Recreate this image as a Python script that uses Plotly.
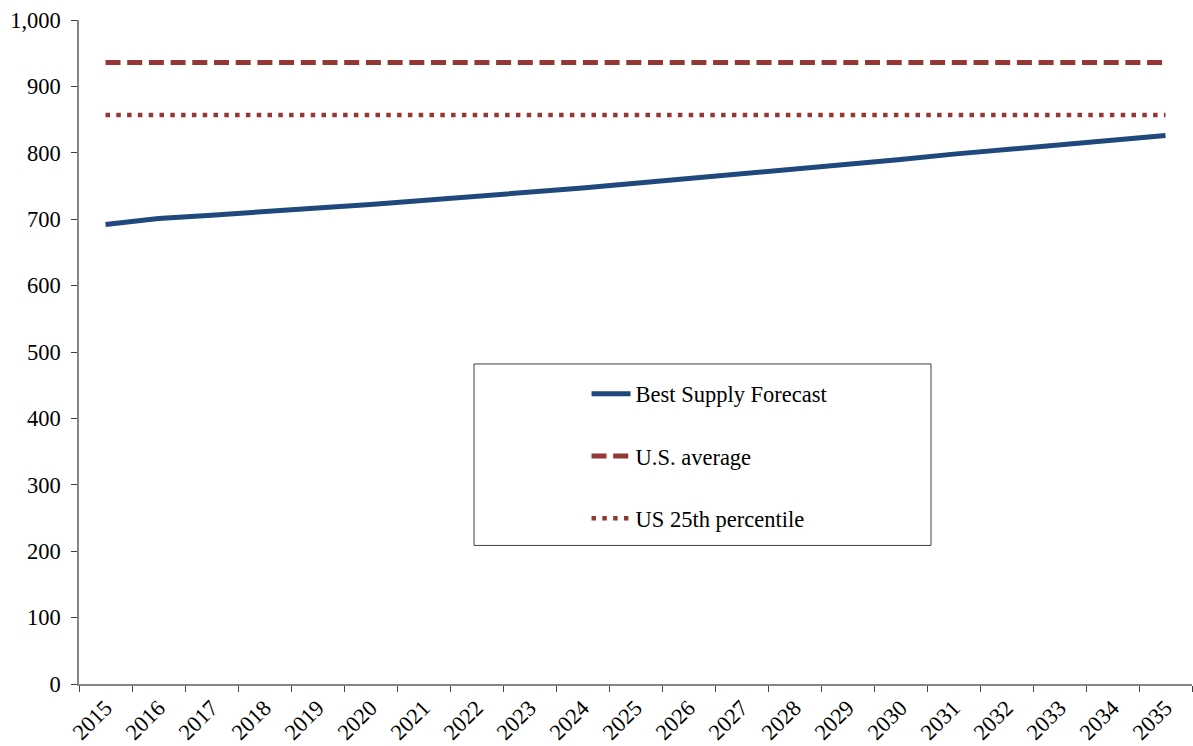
import plotly.graph_objects as go

years = [str(y) for y in range(2015, 2036)]
best_supply = [692, 701, 706, 712, 717, 722, 728, 734, 740, 747, 754,
               761, 768, 776, 783, 790, 798, 805, 813, 820, 826]
us_average = [936] * len(years)
us_25th = [857] * len(years)

FONT = "Liberation Serif, Times New Roman, serif"
BLUE = "#1F497D"
RED = "#953735"
FS = 22.5

fig = go.Figure()
fig.add_trace(go.Scatter(x=years, y=best_supply, mode="lines", name="Best Supply Forecast",
                         legendgroup="a", line=dict(color=BLUE, width=5)))
fig.add_trace(go.Scatter(x=years, y=us_average, mode="lines", name="U.S. average",
                         legendgroup="b", line=dict(color=RED, width=5, dash="15px,6.7px")))
fig.add_trace(go.Scatter(x=years, y=us_25th, mode="lines", name="US 25th percentile",
                         legendgroup="c", line=dict(color=RED, width=4.5, dash="4.5px,6.3px")))

fig.add_shape(type="rect", xref="paper", yref="paper",
              x0=0.3549, x1=0.7655, y0=0.2087, y1=0.482,
              line=dict(color="#404040", width=1), fillcolor="rgba(0,0,0,0)", layer="below")

fig.update_layout(
    width=1193, height=746,
    margin=dict(l=79, r=1, t=20, b=60),
    paper_bgcolor="white", plot_bgcolor="white",
    font=dict(family=FONT, size=FS, color="black"),
    showlegend=True,
    legend=dict(x=0.456, y=0.469, xanchor="left", yanchor="top",
                bgcolor="rgba(0,0,0,0)", borderwidth=0,
                traceorder="grouped", tracegroupgap=30, itemwidth=39,
                font=dict(family=FONT, size=FS, color="black")),
)
fig.update_xaxes(type="category", range=[-0.5, 20.5], tickangle=-45,
                 tickson="boundaries", ticks="outside", ticklen=6,
                 tickcolor="#404040", showline=True, linecolor="#868686", linewidth=1.5,
                 showgrid=False, zeroline=False,
                 tickfont=dict(family=FONT, size=FS, color="black"))
fig.update_yaxes(range=[0, 1000], dtick=100, tickformat=",d", ticks="outside", ticklen=6,
                 ticklabelstandoff=6,
                 tickcolor="#404040", showline=True, linecolor="#868686", linewidth=1.5,
                 showgrid=False, zeroline=False,
                 tickfont=dict(family=FONT, size=FS, color="black"))

fig.write_html("out.html")
